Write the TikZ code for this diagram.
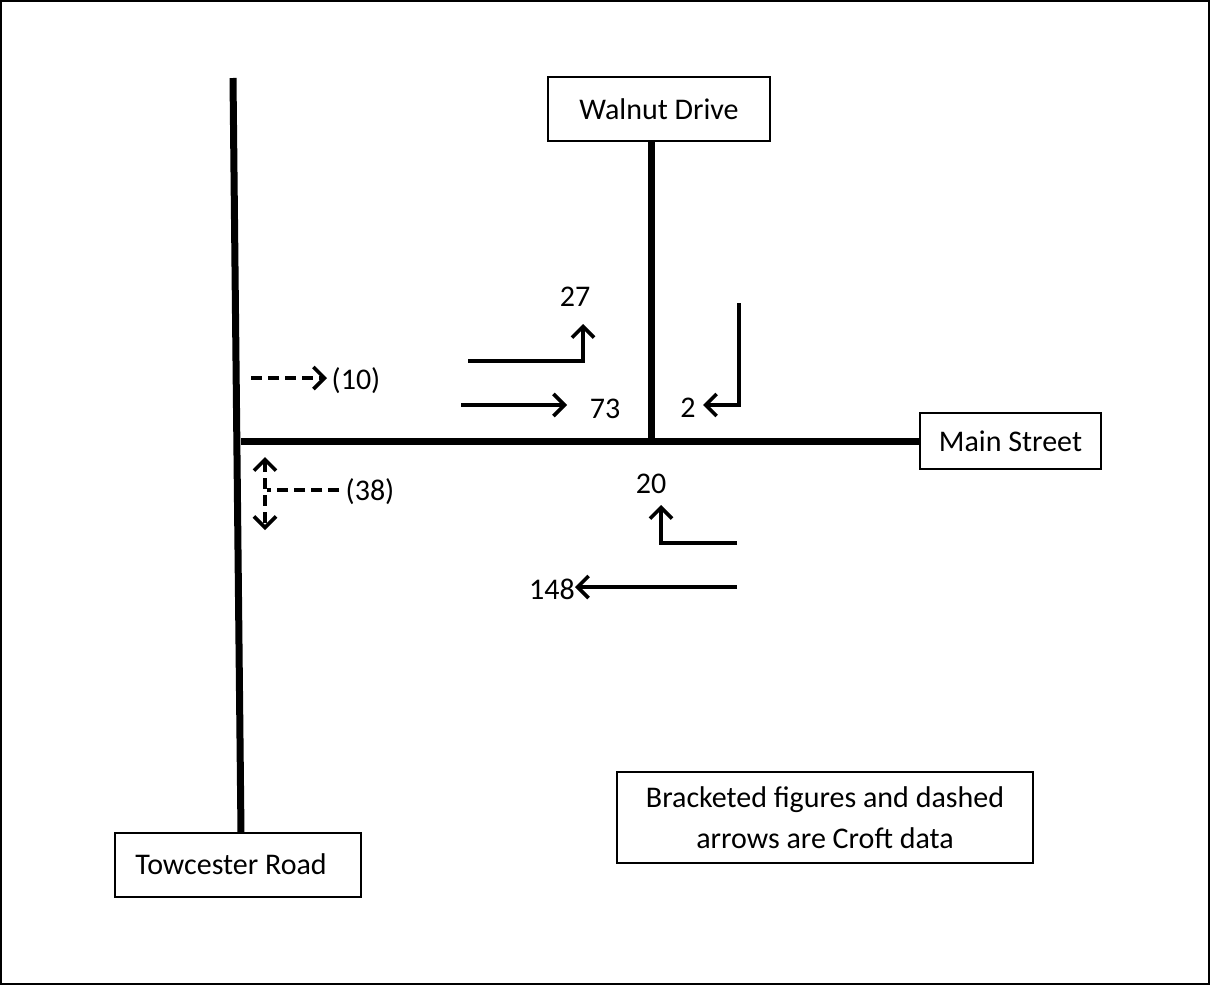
\documentclass[tikz,border=0pt]{standalone}
\usepackage{fontspec}
\setmainfont{Carlito}
\usetikzlibrary{arrows.meta}
\begin{document}
\begin{tikzpicture}[x=1pt,y=-1pt,
  road/.style={line width=7pt},
  tip/.tip={Straight Barb[length=11pt,width=22pt,line width=3.6pt]},
  flow/.style={line width=3.6pt,-tip},
  dflow/.style={flow,dash pattern=on 11pt off 6pt},
  box/.style={draw,line width=1.3pt,fill=white,inner sep=0pt,font=\fontsize{30}{36}\selectfont},
  lbl/.style={inner sep=0pt,font=\fontsize{30}{36}\selectfont}]
\useasboundingbox (0,0) rectangle (1210,985);
\draw[line width=2pt] (1,1) rectangle (1209,984);
% roads
\coordinate (tTop) at (233,78);
\coordinate (tBot) at (241,833);
\coordinate (mW) at (241,441);
\coordinate (mE) at (920,441);
\coordinate (wTop) at (651,142);
\coordinate (wBot) at (651,441);
\draw[road] (tTop) -- (tBot);
\draw[road] (mW) -- (mE);
\draw[road] (wTop) -- (wBot);
% boxes
\node[box,minimum width=222pt,minimum height=64pt] (walnut) at (659,109) {Walnut Drive};
\node[box,minimum width=181pt,minimum height=56pt] (main) at (1010.5,441) {Main Street};
\node[box,minimum width=246pt,minimum height=64pt] (tow) at (238,865) {};
\node[lbl] (towt) at (231,864) {Towcester Road};
\node[box,minimum width=416pt,minimum height=91pt,align=center,font=\fontsize{30}{41}\selectfont] (note) at (825,817.5) {Bracketed figures and dashed\\arrows are Croft data};
% labels
\node[lbl] (l27) at (575,297) {27};
\node[lbl] (l73) at (605,409) {73};
\node[lbl] (l2) at (688,408) {2};
\node[lbl] (l20) at (651,484) {20};
\node[lbl] (l148) at (552,589) {148};
\node[lbl] (l10) at (356,381) {(10)};
\node[lbl] (l38) at (370,492) {(38)};
% flow arrows
\coordinate (a27s) at (468,361);
\coordinate (a27c) at (583,361);
\coordinate (a27e) at (583,324);
\draw[flow] (a27s) -- (a27c) -- (a27e);
\coordinate (a73s) at (461,405);
\coordinate (a73e) at (567,405);
\draw[flow] (a73s) -- (a73e);
\coordinate (a2s) at (739,303);
\coordinate (a2c) at (739,405);
\coordinate (a2e) at (703,405);
\draw[flow] (a2s) -- (a2c) -- (a2e);
\coordinate (a20s) at (737,543);
\coordinate (a20c) at (661,543);
\coordinate (a20e) at (661,505);
\draw[flow] (a20s) -- (a20c) -- (a20e);
\coordinate (a148s) at (737,587);
\coordinate (a148e) at (575,587);
\draw[flow] (a148s) -- (a148e);
% dashed
\coordinate (d10s) at (251,378);
\coordinate (d10e) at (327,378);
\draw[dflow] (d10s) -- (d10e);
\coordinate (d38s) at (339,490);
\coordinate (d38c) at (267,490);
\coordinate (d38t) at (265,457);
\coordinate (d38b) at (265,530);
\draw[line width=3.6pt,dash pattern=on 11pt off 6pt] (d38s) -- (d38c);
\draw[dflow,tip-tip] (d38t) -- (d38b);
\end{tikzpicture}
\end{document}
